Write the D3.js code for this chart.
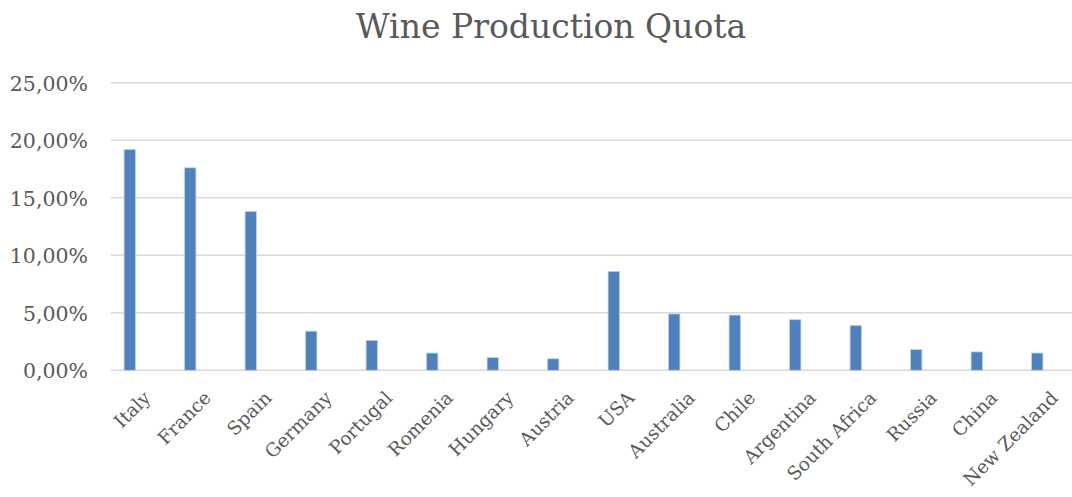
<!DOCTYPE html>
<html>
<head>
<meta charset="utf-8">
<script src="https://cdn.jsdelivr.net/npm/d3@7"></script>
<style>
  html, body { margin: 0; padding: 0; background: #ffffff; }
  svg { display: block; }
  text { font-family: "DejaVu Serif", "Liberation Serif", serif; fill: #595959; }
</style>
</head>
<body>
<svg id="chart" width="1072" height="497"></svg>
<script>
// Share of world wine production by country (fraction of total)
const countries = ["Italy", "France", "Spain", "Germany", "Portugal", "Romenia", "Hungary", "Austria",
  "USA", "Australia", "Chile", "Argentina", "South Africa", "Russia", "China", "New Zealand"];
const quota = [0.192, 0.176, 0.138, 0.034, 0.026, 0.015, 0.011, 0.010,
  0.086, 0.049, 0.048, 0.044, 0.039, 0.018, 0.016, 0.015];
const yTicks = [0, 0.05, 0.10, 0.15, 0.20, 0.25];
const chartTitle = "Wine Production Quota";

const width = 1072, height = 497;
const plot = { left: 99.5, right: 1067.5, top: 82.7, bottom: 370.3, gridLeft: 111, gridRight: 1072 };

const svg = d3.select("#chart");

const x = d3.scaleBand()
  .domain(countries)
  .range([plot.left, plot.right])
  .paddingInner(0.813)
  .paddingOuter(0.4065);

const y = d3.scaleLinear()
  .domain([0, 0.25])
  .range([plot.bottom, plot.top]);

const pct = v => d3.format(".2f")(v * 100).replace(".", ",") + "%";

// Title
svg.append("text")
  .attr("x", 551)
  .attr("y", 38)
  .attr("text-anchor", "middle")
  .style("font-size", "33px")
  .text(chartTitle);

// Horizontal gridlines
svg.append("g")
  .selectAll("line")
  .data(yTicks)
  .join("line")
  .attr("x1", plot.gridLeft)
  .attr("x2", plot.gridRight)
  .attr("y1", d => y(d))
  .attr("y2", d => y(d))
  .attr("stroke", "#d9d9d9")
  .attr("stroke-width", 1.6);

// Y axis labels
const yAxis = d3.axisLeft(y).tickValues(yTicks).tickFormat(pct).tickSize(0).tickPadding(0);
svg.append("g")
  .attr("transform", `translate(88,0)`)
  .call(yAxis)
  .call(g => g.select(".domain").remove())
  .call(g => g.selectAll("text")
    .style("font-family", "\"DejaVu Serif\", serif")
    .style("font-size", "20.5px")
    .attr("fill", "#595959")
    .attr("dy", "0.36em"));

// Bars
svg.append("g")
  .selectAll("rect")
  .data(quota)
  .join("rect")
  .attr("x", (d, i) => x(countries[i]))
  .attr("width", x.bandwidth())
  .attr("y", d => y(d))
  .attr("height", d => y(0) - y(d))
  .attr("fill", "#4f81bd")
  .attr("stroke", "#bcd0e8")
  .attr("stroke-width", 0.8);

// Category labels, rotated 45 degrees
const xAxis = d3.axisBottom(x).tickSize(0).tickPadding(0);
svg.append("g")
  .attr("transform", `translate(0,${plot.bottom})`)
  .call(xAxis)
  .call(g => g.select(".domain").remove())
  .call(g => g.selectAll("text")
    .style("font-family", "\"DejaVu Serif\", serif")
    .style("font-size", "18.5px")
    .attr("fill", "#595959")
    .attr("text-anchor", "end")
    .attr("dy", "0.75em")
    .attr("transform", "translate(12,19) rotate(-45)"));
</script>
</body>
</html>
